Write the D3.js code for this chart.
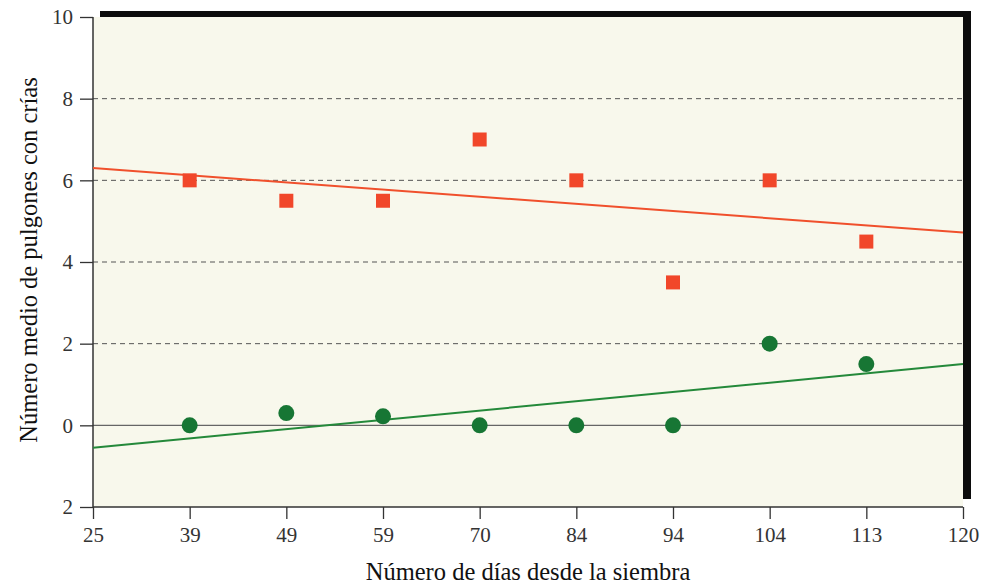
<!DOCTYPE html>
<html>
<head>
<meta charset="utf-8">
<script src="https://cdn.jsdelivr.net/npm/d3@7"></script>
<style>
  body { margin: 0; background: #fff; }
  text { font-family: "Liberation Serif", "DejaVu Serif", serif; }
</style>
</head>
<body>
<svg id="chart" width="983" height="585"></svg>
<script>
// x ticks are evenly spaced categories, not a numeric scale
const days = ['25', '39', '49', '59', '70', '84', '94', '104', '113', '120'];
const sampleDays = ['39', '49', '59', '70', '84', '94', '104', '113'];
const redValues = [6, 5.5, 5.5, 7, 6, 3.5, 6, 4.5];
const greenValues = [0, 0.3, 0.22, 0, 0, 0, 2, 1.5];
// trend lines, from first to last category
const trendDays = ['25', '120'];
const redTrend = [6.3, 4.72];
const greenTrend = [-0.55, 1.5];
const yTicks = [-2, 0, 2, 4, 6, 8, 10];

const COLORS = {
    red: '#f1472a',
    green: '#177634',
    redLine: '#f0502c',
    greenLine: '#24893a',
    bg: '#f8f8ec',
    grid: '#555'
};

const margins = {left: 93, right: 20, top: 17, bottom: 78};
const width = 963 - margins.left;
const height = 507 - margins.top;

const svg = d3.select('#chart');
const g = svg.append('g')
    .attr('transform', `translate(${margins.left},${margins.top})`);

const xScale = d3.scalePoint().domain(days).range([0, width]);
const yScale = d3.scaleLinear().domain([-2, 10]).range([height, 0]);

// shadow border on top and right
g.append('rect')
    .attr('x', 7).attr('y', -6)
    .attr('width', width + 1).attr('height', 7)
    .attr('fill', '#0c0c0c');
g.append('rect')
    .attr('x', width).attr('y', -6)
    .attr('width', 8).attr('height', height - 2)
    .attr('fill', '#0c0c0c');

g.append('rect')
    .attr('width', width).attr('height', height)
    .attr('fill', COLORS.bg);

// gridlines
g.append('g')
    .selectAll('line')
    .data(yTicks.filter(d => d > 0 && d < 10))
    .join('line')
    .attr('x1', 0).attr('x2', width)
    .attr('y1', d => yScale(d)).attr('y2', d => yScale(d))
    .attr('stroke', COLORS.grid)
    .attr('stroke-width', 1)
    .attr('stroke-dasharray', '5,4');

g.append('line')      // zero line
    .attr('x1', 0).attr('x2', width)
    .attr('y1', yScale(0)).attr('y2', yScale(0))
    .attr('stroke', '#666')
    .attr('stroke-width', 1.2);

const yAxis = g.append('g')
    .call(d3.axisLeft(yScale)
        .tickValues(yTicks)
        .tickSize(13)
        .tickPadding(7)
        .tickFormat(d => Math.abs(d)));
const xAxis = g.append('g')
    .attr('transform', `translate(0,${height})`)
    .call(d3.axisBottom(xScale).tickSize(12).tickPadding(8));

[yAxis, xAxis].forEach(ax => {
    ax.select('.domain').attr('stroke', '#333').attr('stroke-width', 1.5);
    ax.selectAll('.tick line').attr('stroke', '#333').attr('stroke-width', 1.3);
    ax.selectAll('.tick text')
        .attr('fill', '#333')
        .style('font-family', '"Liberation Serif", serif')
        .style('font-size', '21px');
});
xAxis.select('.domain').attr('d', `M0,0H${width}`);
yAxis.select('.domain').attr('d', `M0,0V${height}`);

// trend lines
const line = d3.line()
    .x(d => xScale(d[0]))
    .y(d => yScale(d[1]));
g.append('path')
    .datum(d3.zip(trendDays, redTrend))
    .attr('d', line)
    .attr('fill', 'none')
    .attr('stroke', COLORS.redLine)
    .attr('stroke-width', 2);
g.append('path')
    .datum(d3.zip(trendDays, greenTrend))
    .attr('d', line)
    .attr('fill', 'none')
    .attr('stroke', COLORS.greenLine)
    .attr('stroke-width', 2);

// markers
const sq = 14;
g.append('g')
    .selectAll('rect')
    .data(d3.zip(sampleDays, redValues))
    .join('rect')
    .attr('x', d => xScale(d[0]) - sq / 2)
    .attr('y', d => yScale(d[1]) - sq / 2)
    .attr('width', sq).attr('height', sq)
    .attr('fill', COLORS.red);
g.append('g')
    .selectAll('circle')
    .data(d3.zip(sampleDays, greenValues))
    .join('circle')
    .attr('cx', d => xScale(d[0]))
    .attr('cy', d => yScale(d[1]))
    .attr('r', 8)
    .attr('fill', COLORS.green);

// axis titles
svg.append('text')
    .attr('x', 528).attr('y', 580)
    .attr('text-anchor', 'middle')
    .style('font-size', '24.5px')
    .attr('fill', '#111')
    .text('Número de días desde la siembra');
svg.append('text')
    .attr('transform', 'translate(37,260) rotate(-90)')
    .attr('text-anchor', 'middle')
    .style('font-size', '24.5px')
    .attr('fill', '#111')
    .text('Número medio de pulgones con crías');
</script>
</body>
</html>
